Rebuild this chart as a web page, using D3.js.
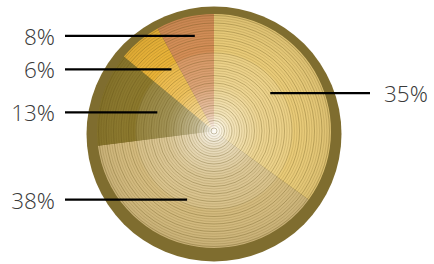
<!DOCTYPE html>
<html>
<head>
<meta charset="utf-8">
<script src="https://cdn.jsdelivr.net/npm/d3@7"></script>
<style>
  html, body { margin: 0; padding: 0; background: #fff; }
  .label { font-family: "Open Sans Light", "Open Sans", sans-serif; font-weight: 300; font-size: 22.5px; fill: #3a3a3a; }
</style>
</head>
<body>
<svg width="434" height="264"></svg>
<script>
// data
var categories = ["A", "B", "C", "D", "E"];
var values = [35, 38, 13, 6, 8];
var labels = ["35%", "38%", "13%", "6%", "8%"];
var colors = ["#e9cb78", "#d4bb7e", "#8b782c", "#e9b236", "#d48d56"];

// leader anchors inside each slice (angle shift in degrees, radius fraction)
var anchorShift = [-7, 7, 2, 5, 3];
var anchorRadius = [0.58, 0.63, 0.51, 0.64, 0.83];
var labelSide = ["right", "left", "left", "left", "left"];

var svg = d3.select("svg");
var cx = 214, cy = 131, r = 117;
var leftLineX = 65, rightLineX = 370;

var defs = svg.append("defs");
var glow = defs.append("radialGradient").attr("id", "glow")
    .attr("cx", "50%").attr("cy", "50%").attr("r", "50%");
glow.append("stop").attr("offset", "0%").attr("stop-color", "#fff").attr("stop-opacity", 0.95);
glow.append("stop").attr("offset", "15%").attr("stop-color", "#fff").attr("stop-opacity", 0.5);
glow.append("stop").attr("offset", "40%").attr("stop-color", "#fff").attr("stop-opacity", 0.2);
glow.append("stop").attr("offset", "66%").attr("stop-color", "#fff").attr("stop-opacity", 0.1);
glow.append("stop").attr("offset", "68%").attr("stop-color", "#fff").attr("stop-opacity", 0.0);
glow.append("stop").attr("offset", "100%").attr("stop-color", "#000").attr("stop-opacity", 0.06);

defs.append("clipPath").attr("id", "pieClip")
  .append("circle").attr("cx", cx).attr("cy", cy).attr("r", r);

// outer border
svg.append("circle")
    .attr("cx", cx).attr("cy", cy + 3).attr("r", 127.5)
    .attr("fill", "#7f6d2f");

var pie = d3.pie().sort(null).value(function(d) { return d; });
var arcs = pie(values);
var arc = d3.arc().innerRadius(0).outerRadius(r);

var g = svg.append("g").attr("transform", "translate(" + cx + "," + cy + ")");

g.selectAll("path.slice")
    .data(arcs)
  .enter().append("path")
    .attr("class", "slice")
    .attr("d", arc)
    .attr("fill", function(d, i) { return colors[i]; });

// highlight toward the centre
svg.append("circle")
    .attr("cx", cx).attr("cy", cy).attr("r", r)
    .attr("fill", "url(#glow)");

// concentric ring texture
var rings = svg.append("g").attr("clip-path", "url(#pieClip)");
d3.range(3, r + 2, 2.5).forEach(function(rr, k) {
  rings.append("circle")
      .attr("cx", cx).attr("cy", cy).attr("r", rr)
      .attr("fill", "none")
      .attr("stroke", "#5e4c12")
      .attr("stroke-width", 0.9)
      .attr("stroke-opacity", k % 3 === 0 ? 0.36 : 0.2);
});

// leader lines and labels
var deg = Math.PI / 180;
arcs.forEach(function(d, i) {
  var a = (d.startAngle + d.endAngle) / 2 + anchorShift[i] * deg;
  var rr = anchorRadius[i] * r;
  var ex = cx + Math.sin(a) * rr;
  var ey = cy - Math.cos(a) * rr;
  var right = labelSide[i] === "right";
  svg.append("line")
      .attr("x1", right ? rightLineX : leftLineX).attr("y1", ey)
      .attr("x2", ex).attr("y2", ey)
      .attr("stroke", "#000").attr("stroke-width", 2.2);
  svg.append("text")
      .attr("class", "label")
      .attr("x", right ? rightLineX + 14 : leftLineX - 10)
      .attr("y", ey + 9)
      .attr("text-anchor", right ? "start" : "end")
      .text(labels[i]);
});
</script>
</body>
</html>
